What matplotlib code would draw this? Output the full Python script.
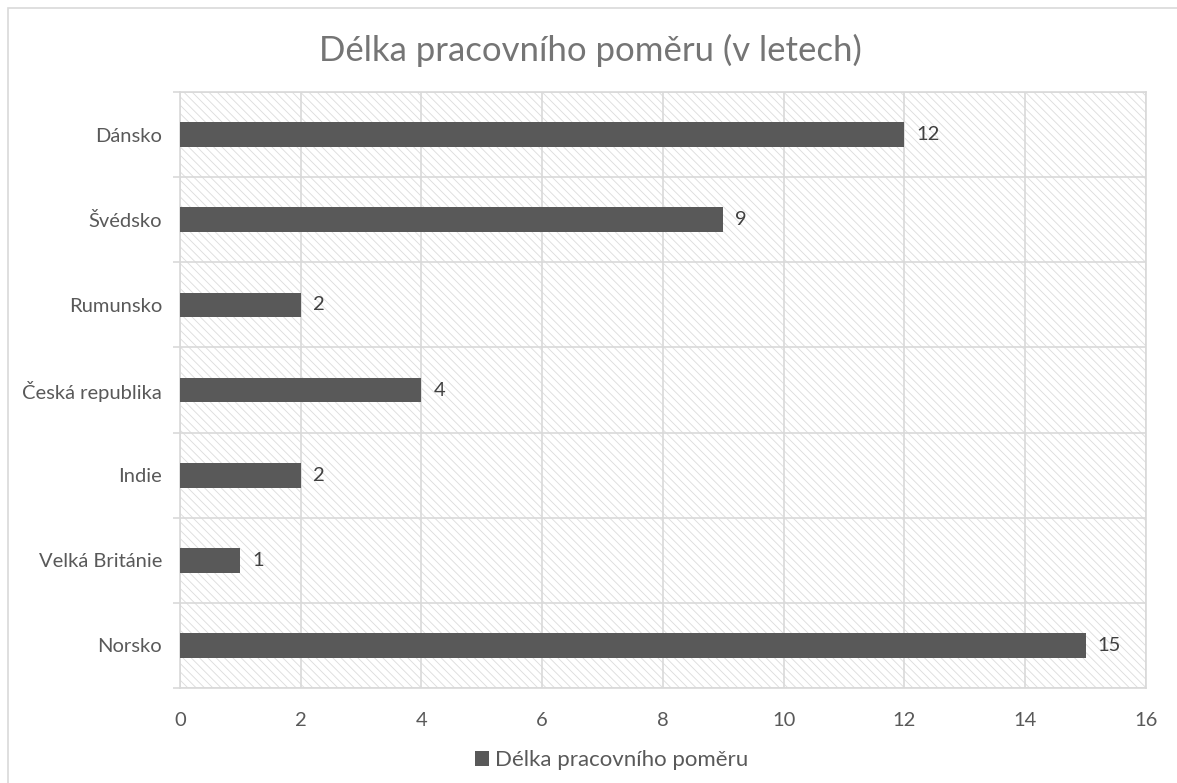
import matplotlib.pyplot as plt
from matplotlib.patches import Rectangle
import numpy as np

# Data (bottom to top, as drawn)
countries = ["Norsko", "Velká Británie", "Indie", "Česká republika",
             "Rumunsko", "Švédsko", "Dánsko"]
years = [15, 1, 2, 4, 2, 9, 12]

TITLE = "Délka pracovního poměru (v letech)"
SERIES = "Délka pracovního poměru"

plt.rcParams["font.family"] = ["Lato", "DejaVu Sans"]
plt.rcParams["hatch.linewidth"] = 0.6

GRID = "#d9d9d9"
HATCH = "#dcdcdc"
BAR = "#595959"
TEXT = "#595959"
FS = 14.5

fig = plt.figure(figsize=(11.77, 7.83), dpi=100)
ax = fig.add_axes([0.1529, 0.1213, 0.8207, 0.7612])

# outer chart frame
fig.patches.append(Rectangle((8 / 1177, -0.01), 1.05, 1 - 8 / 783 + 0.01,
                             transform=fig.transFigure, fill=False,
                             edgecolor=GRID, linewidth=1.2, zorder=0))

# hatched plot area
ax.set_facecolor("white")
ax.add_patch(Rectangle((0, 0), 1, 1, transform=ax.transAxes, facecolor="none",
                       edgecolor=HATCH, hatch="\\\\\\\\", linewidth=0, zorder=0))

y = np.arange(len(countries))
ax.barh(y, years, height=0.29, color=BAR, zorder=3, label=SERIES)
for yi, v in zip(y, years):
    ax.text(v + 0.2, yi, str(v), va="center", ha="left", fontsize=FS,
            color="#404040", zorder=4)

ax.set_xlim(0, 16)
ax.set_ylim(-0.5, len(countries) - 0.5)
ax.set_xticks(np.arange(0, 17, 2))
ax.set_yticks(y)
ax.set_yticklabels(countries)
ax.set_yticks(np.arange(-0.5, len(countries), 1), minor=True)

ax.tick_params(axis="y", which="major", length=0, pad=13, labelsize=FS,
               labelcolor=TEXT)
ax.tick_params(axis="y", which="minor", length=5, color=GRID, width=1.2)
ax.tick_params(axis="x", length=0, pad=17, labelsize=FS, labelcolor=TEXT)

ax.grid(True, axis="x", color=GRID, linewidth=1.2, zorder=1)
ax.grid(True, axis="y", which="minor", color=GRID, linewidth=1.2, zorder=1)
ax.set_axisbelow(True)
for side in ["top", "right", "bottom", "left"]:
    ax.spines[side].set_color(GRID)
    ax.spines[side].set_linewidth(1.2)

fig.text(0.502, 0.936, TITLE, ha="center", va="center", fontsize=25,
         color="#757575")

fig.legend(loc="center", bbox_to_anchor=(0.52, 0.029), frameon=False,
           fontsize=16, labelcolor=TEXT, handlelength=0.6, handleheight=0.6,
           handletextpad=0.3)

fig.savefig("out.png", dpi=100)
